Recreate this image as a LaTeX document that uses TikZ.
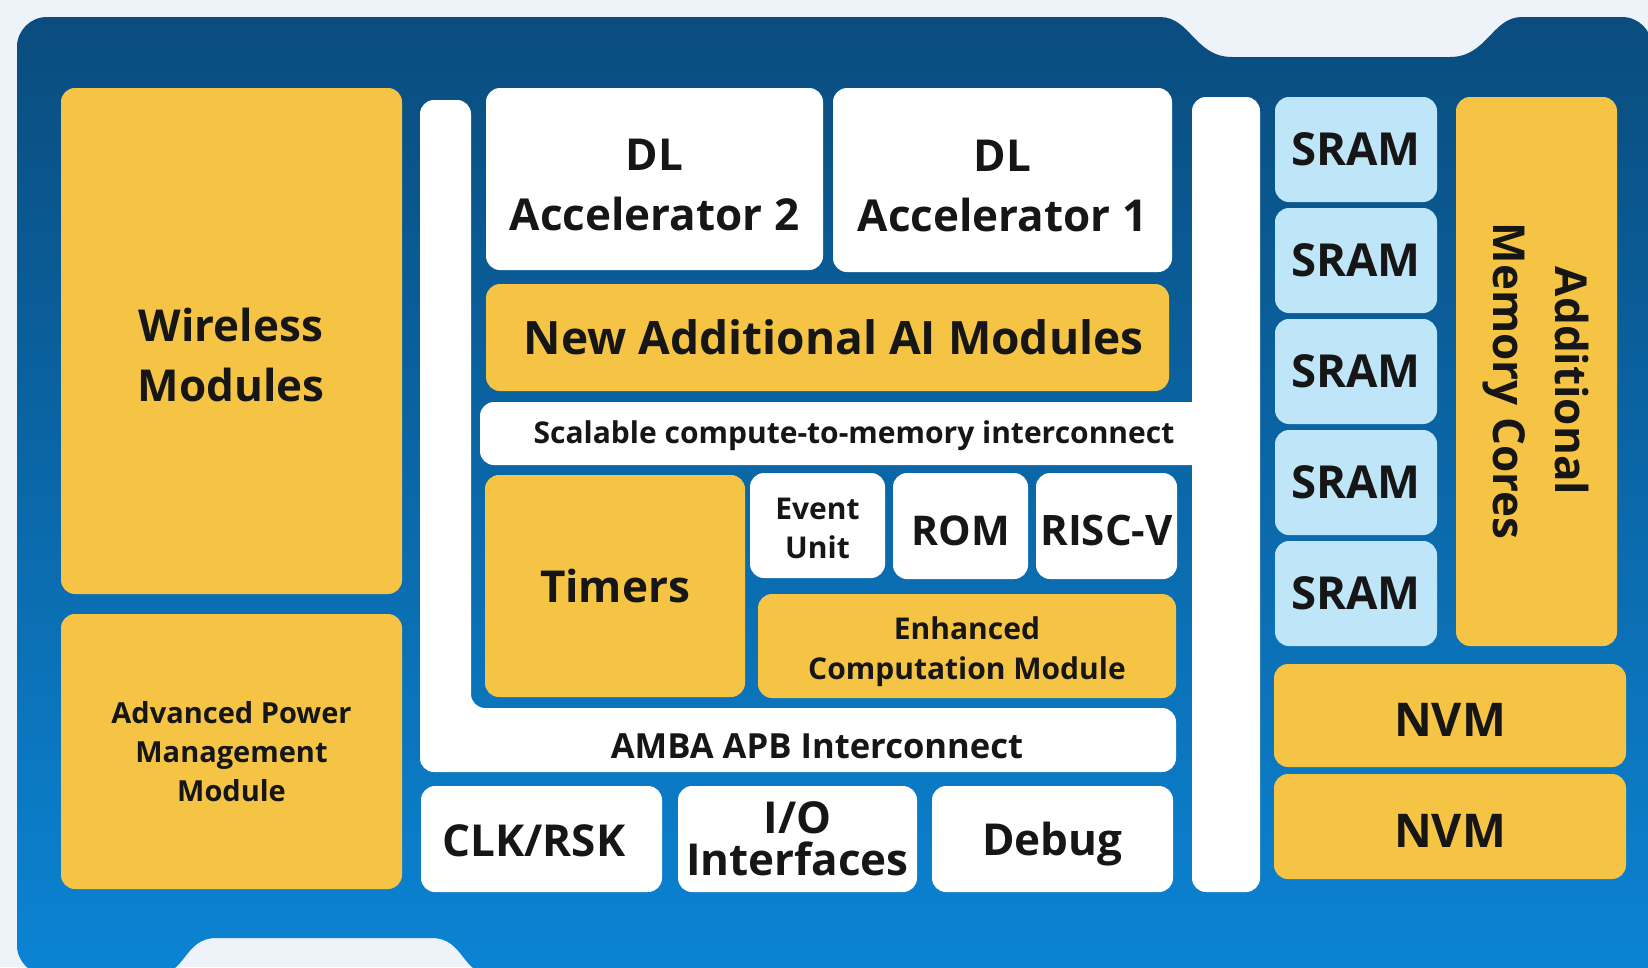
\documentclass[tikz,border=0pt]{standalone}
\usepackage{fontspec}
\setmainfont{Open Sans}
\definecolor{bgc}{RGB}{238,243,249}
\definecolor{chiptop}{RGB}{10,76,126}
\definecolor{chipbot}{RGB}{11,132,212}
\definecolor{yel}{RGB}{246,196,69}
\definecolor{sramc}{RGB}{191,230,248}
\definecolor{txt}{RGB}{22,22,22}
\tikzset{
 blk/.style={rounded corners=14pt, inner sep=0pt, text=txt, align=center, font=\bfseries\fontsize{44}{60}\selectfont},
 yb/.style={blk, fill=yel},
 wb/.style={blk, fill=white},
 sb/.style={blk, fill=sramc, font=\bfseries\fontsize{45.5}{60}\selectfont},
 lbl/.style={text=txt, inner sep=0pt, align=center, font=\bfseries\fontsize{44}{60}\selectfont},
 smallfont/.style={font=\bfseries\fontsize{29}{39}\selectfont},
}
% \chipblk{style}{name}{x1}{y1}{x2}{y2}{text}
\newcommand{\chipblk}[7]{\node[#1, minimum width={(#5-#3)*1pt}, minimum height={(#6-#4)*1pt}] (#2) at ({(#3+#5)/2},{(#4+#6)/2}) {#7};}
\newcommand{\tstrut}[1]{\rule{0pt}{#1}}
\begin{document}
\begin{tikzpicture}[x=1pt,y=-1pt]
\useasboundingbox (0,0) rectangle (1648,967);
\fill[bgc] (0,0) rectangle (1648,967);
% chip body
\path[top color=chiptop, bottom color=chipbot]
 (17,945) -- (17,47) .. controls (17,30.4) and (30.4,17) .. (47,17)
 -- (1160,17) .. controls (1190,17) and (1195,57) .. (1232,57)
 -- (1450,57) .. controls (1487,57) and (1492,17) .. (1522,17)
 -- (1622,17) .. controls (1638.6,17) and (1652,30.4) .. (1652,47)
 -- (1652,975) -- (492,975) .. controls (462,975) and (464,938) .. (432,938)
 -- (216,938) .. controls (184,938) and (186,975) .. (156,975)
 -- (47,975) .. controls (30.4,975) and (17,961.6) .. (17,945) -- cycle;
% white L bar (left vertical + AMBA)
\fill[white, rounded corners=14pt] (420,100) -- (471,100) -- (471,708) -- (1176,708) -- (1176,772) -- (420,772) -- cycle;
% left column
\chipblk{yb}{wireless}{61}{88}{402}{594}{}
\node[lbl] (wirelesst) at (231,355) {Wireless\\Modules};
\chipblk{yb, smallfont}{apm}{61}{614}{402}{889}{Advanced Power\\Management\\Module}
% accelerators
\chipblk{wb}{dl2}{486}{88}{823}{270}{\tstrut{44pt}DL\\Accelerator 2}
\chipblk{wb}{dl1}{833}{88}{1172}{272}{\tstrut{44pt}DL\\Accelerator 1}
\chipblk{yb, font=\bfseries\fontsize{46}{60}\selectfont}{ai}{486}{284}{1169}{391}{\hspace*{12pt}New Additional AI Modules}
% scalable interconnect + right bar
\chipblk{wb}{scal}{480}{402}{1230}{465}{}
\chipblk{wb}{rbar}{1192}{97}{1260}{892}{}
\node[lbl, font=\bfseries\fontsize{30}{36}\selectfont] (scalt) at (854,436) {Scalable compute-to-memory interconnect};
% inner blocks
\chipblk{yb}{timers}{485}{475}{745}{697}{Timers}
\chipblk{wb, font=\bfseries\fontsize{30}{39}\selectfont}{event}{750}{473}{885}{578}{\tstrut{27.5pt}Event\\Unit}
\chipblk{wb, font=\bfseries\fontsize{41}{50}\selectfont}{rom}{893}{473}{1028}{579}{\tstrut{39.3pt}ROM}
\chipblk{wb, font=\bfseries\fontsize{42}{50}\selectfont}{risc}{1036}{473}{1177}{579}{\tstrut{40pt}RISC-V}
\chipblk{yb, font=\bfseries\fontsize{30}{40}\selectfont}{enh}{758}{594}{1176}{698}{\tstrut{35pt}Enhanced\\Computation Module}
\node[lbl, font=\bfseries\fontsize{34.6}{40}\selectfont] (amba) at (817,746) {AMBA APB Interconnect};
% bottom row
\chipblk{wb}{clk}{421}{786}{662}{892}{}
\node[lbl] (clkt) at (534,841) {CLK/RSK};
\chipblk{wb, font=\bfseries\fontsize{44}{42}\selectfont}{io}{678}{786}{917}{892}{I/O\\Interfaces}
\chipblk{wb}{debug}{932}{786}{1173}{892}{\tstrut{43.5pt}Debug}
% memory column
\chipblk{sb}{sram1}{1275}{97}{1437}{202}{SRAM}
\chipblk{sb}{sram2}{1275}{208}{1437}{313}{SRAM}
\chipblk{sb}{sram3}{1275}{319}{1437}{424}{SRAM}
\chipblk{sb}{sram4}{1275}{430}{1437}{535}{SRAM}
\chipblk{sb}{sram5}{1275}{541}{1437}{646}{SRAM}
\chipblk{yb}{amc}{1456}{97}{1617}{646}{}
\node[lbl, rotate=-90, font=\bfseries\fontsize{44}{62}\selectfont] (amct) at (1536,381) {Additional\\Memory Cores};
\chipblk{yb, font=\bfseries\fontsize{46.5}{60}\selectfont}{nvm1}{1274}{664}{1626}{767}{\tstrut{41.2pt}NVM}
\chipblk{yb, font=\bfseries\fontsize{46.5}{60}\selectfont}{nvm2}{1274}{774}{1626}{879}{\tstrut{41.2pt}NVM}
\end{tikzpicture}
\end{document}
